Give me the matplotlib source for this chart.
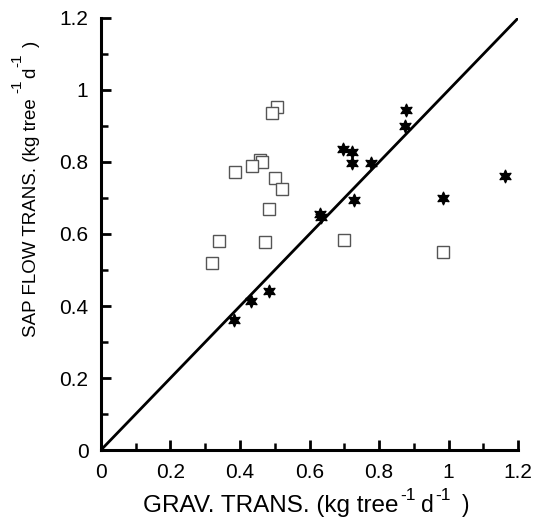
import matplotlib
matplotlib.use("Agg")
import matplotlib.pyplot as plt
from matplotlib.ticker import MultipleLocator, FormatStrFormatter
from matplotlib.transforms import IdentityTransform

plt.rcParams['font.family'] = ['Liberation Sans', 'DejaVu Sans']

# Open squares series
sq_x = [0.506, 0.491, 0.458, 0.462, 0.434, 0.386, 0.501, 0.522, 0.483, 0.340, 0.472, 0.699, 0.985, 0.320]
sq_y = [0.954, 0.935, 0.806, 0.800, 0.789, 0.773, 0.755, 0.725, 0.669, 0.581, 0.578, 0.583, 0.551, 0.520]

# Filled star series
st_x = [0.878, 0.873, 0.695, 0.723, 0.723, 0.776, 1.161, 0.985, 0.728, 0.630, 0.632, 0.484, 0.431, 0.383]
st_y = [0.944, 0.901, 0.835, 0.827, 0.796, 0.798, 0.762, 0.699, 0.694, 0.655, 0.648, 0.443, 0.415, 0.361]

line_x = [0, 1.2]
line_y = [0, 1.2]

# axis label pieces: (text, fontsize, raise_px, gap_after_px)
xlabel_parts = [("GRAV. TRANS. (kg tree", 17.5, 0, 2), ("-1", 12.5, 12, 5), ("d", 16.5, 0, 1),
                ("-1", 12.5, 12, 12), (")", 16.5, 0, 0)]
ylabel_parts = [("SAP FLOW TRANS. (kg tree", 13.5, 0, 5), ("-1", 11, 14, 2), ("d", 13.5, 0, 0),
                ("-1", 11, 14, 7), (")", 13.5, 0, 0)]

W, H = 537, 520
fig = plt.figure(figsize=(W / 100, H / 100), dpi=100)
ax = fig.add_axes([0.188, 0.1346, 0.777, 0.8308])

ax.plot(line_x, line_y, color='black', lw=2.0, zorder=2)
ax.plot(sq_x, sq_y, linestyle='none', marker='s', markersize=9,
        markerfacecolor='white', markeredgecolor='#555555', markeredgewidth=1.0, zorder=3)
ax.plot(st_x, st_y, linestyle='none', marker=(6, 1, 0), markersize=9.5,
        markerfacecolor='black', markeredgecolor='black', markeredgewidth=0.8, zorder=4)

ax.set_xlim(0, 1.2)
ax.set_ylim(0, 1.2)
for s in ['top', 'right']:
    ax.spines[s].set_visible(False)
for s in ['left', 'bottom']:
    ax.spines[s].set_linewidth(2.2)

ax.xaxis.set_major_locator(MultipleLocator(0.2))
ax.xaxis.set_minor_locator(MultipleLocator(0.1))
ax.yaxis.set_major_locator(MultipleLocator(0.2))
ax.yaxis.set_minor_locator(MultipleLocator(0.1))
ax.xaxis.set_major_formatter(FormatStrFormatter('%g'))
ax.yaxis.set_major_formatter(FormatStrFormatter('%g'))
ax.tick_params(which='major', direction='in', length=7, width=2, labelsize=15)
ax.tick_params(axis='x', which='major', pad=9)
ax.tick_params(axis='y', which='major', pad=9)
ax.tick_params(which='minor', direction='in', length=5, width=1.8)

renderer = fig.canvas.get_renderer()


def text_width(s, size):
    t = fig.text(0, 0, s, fontsize=size)
    w = t.get_window_extent(renderer).width
    t.remove()
    return w


# x label, drawn piece by piece (pixel coordinates, origin bottom-left)
pos = 143.0
base = H - 512
for s, size, rise, gap in xlabel_parts:
    fig.text(pos, base + rise, s, fontsize=size, ha='left', va='baseline',
             transform=IdentityTransform())
    pos += text_width(s, size) + gap

# y label, rotated, drawn piece by piece
pos = H - 337.0
base = 35.5
for s, size, rise, gap in ylabel_parts:
    fig.text(base - rise, pos, s, fontsize=size, ha='left', va='baseline',
             rotation=90, rotation_mode='anchor', transform=IdentityTransform())
    pos += text_width(s, size) + gap

fig.savefig('out.png', dpi=100)
